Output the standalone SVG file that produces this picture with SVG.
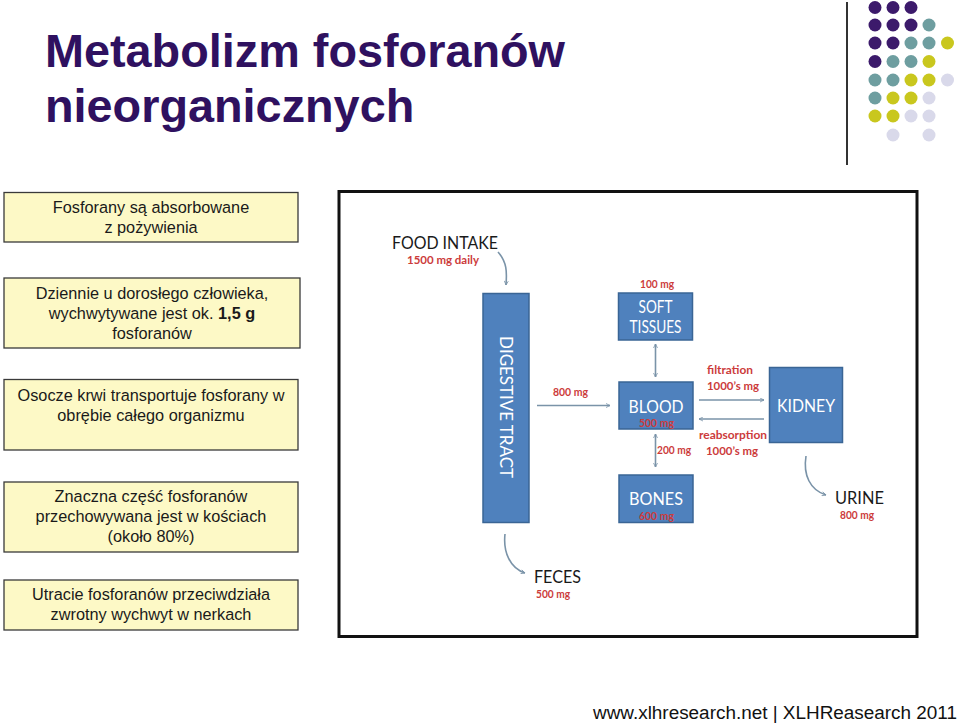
<svg xmlns="http://www.w3.org/2000/svg" width="960" height="725" viewBox="0 0 960 725">
<defs>
<style>
.title{font-family:"Liberation Sans",Arial,sans-serif;font-weight:bold;font-size:46.8px;fill:#2f1160}
.box rect{fill:#fdf9c6;stroke:#3a3a3a;stroke-width:1.3}
.box text{font-family:"Liberation Sans",Arial,sans-serif;font-size:16.3px;fill:#1a1a1a;text-anchor:middle}
.blue{fill:#4f81bd;stroke:#3a6595;stroke-width:1.5}
.wt{font-family:Lato,"Open Sans",sans-serif;font-size:18px;fill:#ffffff;text-anchor:middle}
.bk{font-family:Lato,"Open Sans",sans-serif;font-size:17px;fill:#1a1a1a}
.rd{font-family:Lato,"Open Sans",sans-serif;font-size:11px;font-weight:bold;fill:#cc3b3b}
.arr{fill:none;stroke:#7a93a8;stroke-width:1.6}
.pu{fill:#3c1a6b}.te{fill:#6e9ea0}.ye{fill:#c9c71e}.la{fill:#d9d9ea}
</style>
<marker id="ah" viewBox="0 0 10 10" refX="9" refY="5" markerWidth="5" markerHeight="5" orient="auto-start-reverse" markerUnits="userSpaceOnUse">
<path d="M1,1 L9,5 L1,9" fill="none" stroke="#7a93a8" stroke-width="1.6"/>
</marker>
</defs>
<rect width="960" height="725" fill="#ffffff"/>

<g id="title">
<text class="title" x="45" y="67">Metabolizm fosforanów</text>
<text class="title" x="45" y="122">nieorganicznych</text>
</g>

<g id="decor">
<line x1="847" y1="2" x2="847" y2="165" stroke="#333" stroke-width="2"/>
<circle class="pu" cx="875" cy="7.5" r="6.5"/><circle class="pu" cx="893" cy="7.5" r="6.5"/><circle class="pu" cx="911" cy="7.5" r="6.5"/>
<circle class="pu" cx="875" cy="25" r="6.5"/><circle class="pu" cx="893" cy="25" r="6.5"/><circle class="pu" cx="911" cy="25" r="6.5"/><circle class="te" cx="929" cy="25" r="6.5"/>
<circle class="pu" cx="875" cy="43" r="6.5"/><circle class="pu" cx="893" cy="43" r="6.5"/><circle class="te" cx="911" cy="43" r="6.5"/><circle class="te" cx="929" cy="43" r="6.5"/><circle class="ye" cx="947.5" cy="43" r="6.5"/>
<circle class="pu" cx="875" cy="61.5" r="6.5"/><circle class="te" cx="893" cy="61.5" r="6.5"/><circle class="te" cx="911" cy="61.5" r="6.5"/><circle class="ye" cx="929" cy="61.5" r="6.5"/>
<circle class="te" cx="875" cy="80" r="6.5"/><circle class="te" cx="893" cy="80" r="6.5"/><circle class="ye" cx="911" cy="80" r="6.5"/><circle class="ye" cx="929" cy="80" r="6.5"/><circle class="la" cx="947.5" cy="80" r="6.5"/>
<circle class="te" cx="875" cy="98" r="6.5"/><circle class="ye" cx="893" cy="98" r="6.5"/><circle class="ye" cx="911" cy="98" r="6.5"/><circle class="la" cx="929" cy="98" r="6.5"/>
<circle class="ye" cx="875" cy="116" r="6.5"/><circle class="ye" cx="893" cy="116" r="6.5"/><circle class="la" cx="911" cy="116" r="6.5"/><circle class="la" cx="929" cy="116" r="6.5"/>
<circle class="la" cx="893" cy="135" r="6.5"/><circle class="la" cx="929" cy="135" r="6.5"/>
</g>

<g id="box1" class="box">
<rect x="4" y="192.5" width="294" height="49.5"/>
<text x="151" y="213">Fosforany są absorbowane</text>
<text x="151" y="233">z pożywienia</text>
</g>
<g id="box2" class="box">
<rect x="4" y="278" width="296" height="70"/>
<text x="152" y="299">Dziennie u dorosłego człowieka,</text>
<text x="152" y="319">wychwytywane jest ok. <tspan font-weight="bold">1,5 g</tspan></text>
<text x="152" y="339">fosforanów</text>
</g>
<g id="box3" class="box">
<rect x="4" y="379.5" width="294" height="70.5"/>
<text x="151" y="401">Osocze krwi transportuje fosforany w</text>
<text x="151" y="421">obrębie całego organizmu</text>
</g>
<g id="box4" class="box">
<rect x="4" y="482" width="294" height="70"/>
<text x="151" y="502">Znaczna część fosforanów</text>
<text x="151" y="522">przechowywana jest w kościach</text>
<text x="151" y="542">(około 80%)</text>
</g>
<g id="box5" class="box">
<rect x="4" y="580" width="294" height="50"/>
<text x="151" y="600">Utracie fosforanów przeciwdziała</text>
<text x="151" y="620">zwrotny wychwyt w nerkach</text>
</g>

<g id="frame">
<rect x="339" y="191.5" width="578" height="445" fill="#ffffff" stroke="#111" stroke-width="3"/>
</g>

<g id="connectors">
<path class="arr" d="M498,252 C507,262 507,272 506,285" marker-end="url(#ah)"/>
<line class="arr" x1="537" y1="405.5" x2="610" y2="405.5" marker-end="url(#ah)"/>
<line class="arr" x1="655.5" y1="344" x2="655.5" y2="377" marker-start="url(#ah)" marker-end="url(#ah)"/>
<line class="arr" x1="655.5" y1="434" x2="655.5" y2="467" marker-start="url(#ah)" marker-end="url(#ah)"/>
<line class="arr" x1="699" y1="400" x2="764" y2="400" marker-end="url(#ah)"/>
<line class="arr" x1="764" y1="419" x2="699" y2="419" marker-end="url(#ah)"/>
<path class="arr" d="M806,456 C803,475 810,490 826,495" marker-end="url(#ah)"/>
<path class="arr" d="M505,534 C503,552 510,568 525,573" marker-end="url(#ah)"/>
</g>

<g id="food">
<text class="bk" x="392" y="248.5" textLength="106" lengthAdjust="spacingAndGlyphs">FOOD INTAKE</text>
<text class="rd" x="407" y="263.5" textLength="72" lengthAdjust="spacingAndGlyphs">1500 mg daily</text>
</g>
<g id="digestive">
<rect class="blue" x="483" y="293.5" width="46" height="229"/>
<text class="wt" transform="translate(500,407) rotate(90)" textLength="142" lengthAdjust="spacingAndGlyphs">DIGESTIVE TRACT</text>
</g>
<text class="rd" x="553" y="396" textLength="35" lengthAdjust="spacingAndGlyphs">800 mg</text>
<g id="soft">
<text class="rd" x="640" y="288" textLength="34" lengthAdjust="spacingAndGlyphs">100 mg</text>
<rect class="blue" x="618.5" y="293" width="74" height="47"/>
<text class="wt" x="655.5" y="313" textLength="34" lengthAdjust="spacingAndGlyphs">SOFT</text>
<text class="wt" x="655.5" y="333" textLength="52" lengthAdjust="spacingAndGlyphs">TISSUES</text>
</g>
<g id="blood">
<rect class="blue" x="619" y="382" width="74" height="47"/>
<text class="wt" x="656" y="413" textLength="55" lengthAdjust="spacingAndGlyphs">BLOOD</text>
<text class="rd" x="639" y="427" textLength="35" lengthAdjust="spacingAndGlyphs">500 mg</text>
</g>
<g id="kidney">
<rect class="blue" x="769.5" y="367.5" width="73" height="75"/>
<text class="wt" x="806" y="412" textLength="58" lengthAdjust="spacingAndGlyphs">KIDNEY</text>
</g>
<g id="labels">
<text class="rd" x="707" y="374" textLength="46" lengthAdjust="spacingAndGlyphs">filtration</text>
<text class="rd" x="707" y="390" textLength="52" lengthAdjust="spacingAndGlyphs">1000’s mg</text>
<text class="rd" x="699" y="439" textLength="68" lengthAdjust="spacingAndGlyphs">reabsorption</text>
<text class="rd" x="706" y="455" textLength="52" lengthAdjust="spacingAndGlyphs">1000’s mg</text>
<text class="rd" x="657" y="454" textLength="34" lengthAdjust="spacingAndGlyphs">200 mg</text>
</g>
<g id="bones">
<rect class="blue" x="619" y="475" width="74" height="47.5"/>
<text class="wt" x="656" y="505" textLength="54" lengthAdjust="spacingAndGlyphs">BONES</text>
<text class="rd" x="639" y="520" textLength="35" lengthAdjust="spacingAndGlyphs">600 mg</text>
</g>
<g id="urine">
<text class="bk" x="835" y="504" textLength="49" lengthAdjust="spacingAndGlyphs">URINE</text>
<text class="rd" x="840" y="518.5" textLength="34" lengthAdjust="spacingAndGlyphs">800 mg</text>
</g>
<g id="feces">
<text class="bk" x="534" y="583" textLength="47" lengthAdjust="spacingAndGlyphs">FECES</text>
<text class="rd" x="536" y="598" textLength="34" lengthAdjust="spacingAndGlyphs">500 mg</text>
</g>

<g id="footer">
<text x="593" y="719" font-family="'Liberation Sans',Arial,sans-serif" font-size="18" fill="#111" textLength="364" lengthAdjust="spacingAndGlyphs">www.xlhresearch.net | XLHReasearch 2011</text>
</g>
</svg>
